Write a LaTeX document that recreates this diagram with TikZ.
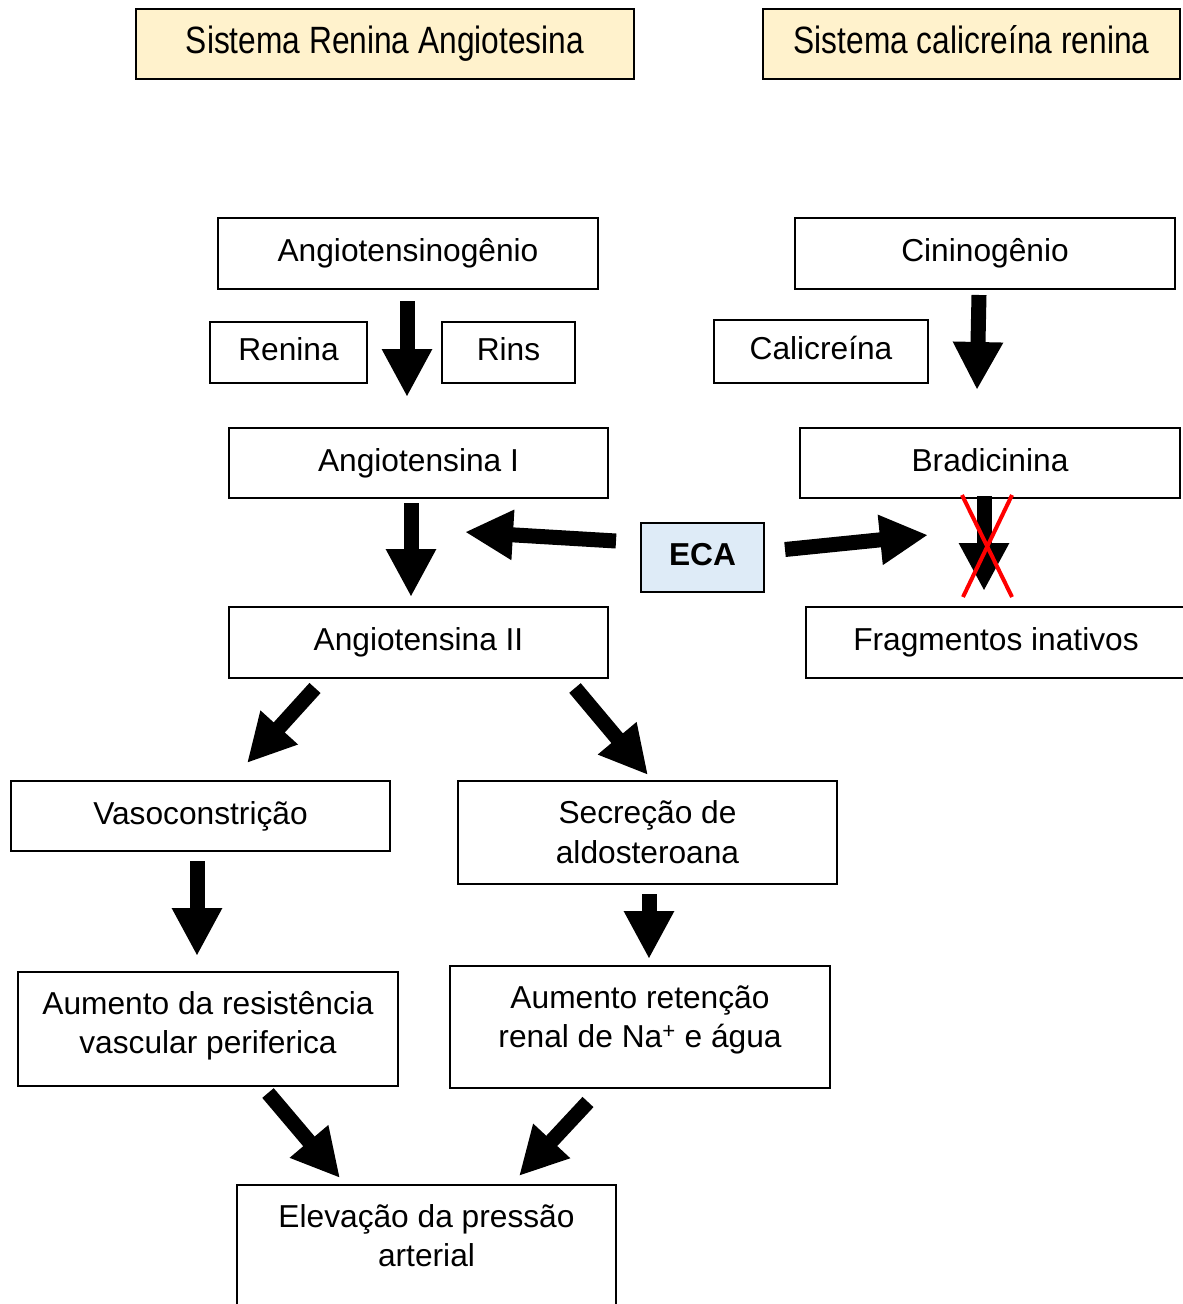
\documentclass[tikz,border=0pt]{standalone}
\usepackage{fontspec}
\setmainfont{Liberation Sans}
\usepackage{graphicx}
\usetikzlibrary{arrows.meta}
\definecolor{hdr}{HTML}{FFF2CC}
\definecolor{ecab}{HTML}{DEEBF7}
\newcommand\mlines[2][0pt]{\begin{tabular}{@{}c@{}}#2\\[#1]\end{tabular}}
\newcommand\mlinesdown[2][0pt]{\begin{tabular}{@{}c@{}}\rule{0pt}{\dimexpr 27.65pt+#1\relax}#2\end{tabular}}
\begin{document}
\begin{tikzpicture}[x=1pt,y=-1pt,
  every node/.style={font=\fontsize{31.7}{39.5}\selectfont},
  box/.style={draw=black, line width=2pt, inner sep=0pt, fill=white},
  sbox/.style={box, text height=23pt, text depth=7pt},
  hbox/.style={box, fill=hdr, text height=27pt, text depth=9pt, minimum height=70pt},
  barrow/.style={line width=15pt, -{Triangle[width=47pt,length=48pt]}},
  cross/.style={draw=red, line width=4pt}
]
\useasboundingbox (0,0) rectangle (1183,1304);

% headers
\node[hbox, minimum width=498pt] (h1) at (385,44) {\scalebox{1}[1.2]{Sistema Renina Angiotesina}};
\node[hbox, minimum width=417pt] (h2) at (971.5,44) {\scalebox{1}[1.2]{Sistema calicreína renina}};

% boxes
\node[sbox, minimum width=380pt, minimum height=71pt] (angio) at (408,253.5) {Angiotensinogênio};
\node[sbox, minimum width=380pt, minimum height=71pt] (cinin) at (985,253.5) {Cininogênio};
\node[sbox, minimum width=157pt, minimum height=61pt] (renina) at (288.5,352.5) {Renina};
\node[sbox, minimum width=133pt, minimum height=61pt] (rins) at (508.5,352.5) {Rins};
\node[sbox, minimum width=214pt, minimum height=63pt] (calic) at (821,351.5) {Calicreína};
\node[sbox, minimum width=379pt, minimum height=70pt] (angI) at (418.5,463) {Angiotensina I};
\node[sbox, minimum width=380pt, minimum height=70pt] (brad) at (990,463) {Bradicinina};
\node[sbox, fill=ecab, minimum width=123pt, minimum height=69pt, font=\fontsize{31.7}{39.5}\selectfont\bfseries] (eca) at (702.5,557.5) {ECA};
\node[sbox, minimum width=379pt, minimum height=71pt] (angII) at (418.5,642.5) {Angiotensina II};
\node[sbox, minimum width=380pt, minimum height=71pt] (frag) at (996,642.5) {Fragmentos inativos};
\node[sbox, minimum width=379pt, minimum height=70pt] (vaso) at (200.5,816) {Vasoconstrição};
\node[box, minimum width=379pt, minimum height=103pt] (secr) at (647.5,832.5) {\mlinesdown[6pt]{Secreção de\\aldosteroana}};
\node[box, minimum width=380pt, minimum height=114pt] (aumres) at (208,1029) {\mlines[6pt]{Aumento da resistência\\vascular periferica}};
\node[box, minimum width=380pt, minimum height=122pt] (aumret) at (640,1027) {\mlines[14pt]{Aumento retenção\\renal de Na\textsuperscript{+} e água}};
\node[box, minimum width=379pt, minimum height=140pt] (elev) at (426.5,1255) {\mlines[32pt]{Elevação da pressão\\arterial}};

% arrow end points
\coordinate (a1s) at (407,301);  \coordinate (a1e) at (407,397);
\coordinate (a2s) at (979,295);  \coordinate (a2e) at (977,390);
\coordinate (a3s) at (411,503);  \coordinate (a3e) at (411,597);
\coordinate (a4s) at (616,541);  \coordinate (a4e) at (465,532);
\coordinate (a5s) at (785,549.5);\coordinate (a5e) at (928,535);
\coordinate (a6s) at (984,496);  \coordinate (a6e) at (984,591);
\coordinate (a7s) at (315,688);  \coordinate (a7e) at (247,763);
\coordinate (a8s) at (575,688);  \coordinate (a8e) at (648,775);
\coordinate (a9s) at (197,861);  \coordinate (a9e) at (197,956);
\coordinate (a10s) at (649,894); \coordinate (a10e) at (649,959);
\coordinate (a11s) at (268,1093);\coordinate (a11e) at (340,1178);
\coordinate (a12s) at (588,1102);\coordinate (a12e) at (519,1176);

\draw[barrow] (a1s) -- (a1e);
\draw[barrow] (a2s) -- (a2e);
\draw[barrow] (a3s) -- (a3e);
\draw[barrow] (a4s) -- (a4e);
\draw[barrow] (a5s) -- (a5e);
\draw[barrow] (a6s) -- (a6e);
\draw[barrow] (a7s) -- (a7e);
\draw[barrow] (a8s) -- (a8e);
\draw[barrow] (a9s) -- (a9e);
\draw[barrow] (a10s) -- (a10e);
\draw[barrow] (a11s) -- (a11e);
\draw[barrow] (a12s) -- (a12e);

% red cross
\draw[cross] (962,495) -- (1012,597);
\draw[cross] (1012,495) -- (963,597);
\end{tikzpicture}
\end{document}
